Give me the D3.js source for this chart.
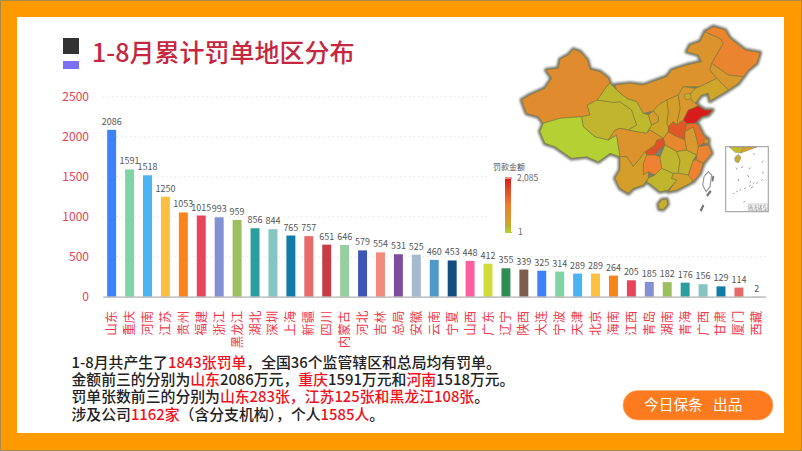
<!DOCTYPE html>
<html><head><meta charset="utf-8">
<script src="https://cdn.jsdelivr.net/npm/d3@7"></script>
<style>html,body{margin:0;padding:0;background:#fff}svg{display:block}text{font-family:"Noto Sans CJK SC","Noto Sans",sans-serif}</style>
</head><body><svg id="c" width="802" height="451"></svg>
<script>
const categories=["山东","重庆","河南","江苏","贵州","福建","浙江","黑龙江","湖北","深圳","上海","新疆","四川","内蒙古","河北","吉林","总局","安徽","云南","宁夏","山西","广东","辽宁","陕西","大连","宁波","天津","北京","海南","江西","青岛","湖南","青海","广西","甘肃","厦门","西藏"];
const fines=[2086,1591,1518,1250,1053,1015,993,959,856,844,765,757,651,646,579,554,531,525,460,453,448,412,355,339,325,314,289,289,264,205,185,182,176,156,129,114,2];
const palette=["#3d82fb","#7fd4a5","#4ab3f4","#fdbf3f","#f8841c","#e8445c","#858fd3","#9dbf5f","#2a9d9f","#85c5bf","#127ca8","#e66a6a","#c73a47","#97cda0","#3f55b5","#f28b7c","#7b4f9d","#a6b9cf","#4f98c9","#144e7e","#fb5fa0","#cfdc3c","#2f8c55","#7d5e4e"];
const yTicks=[0,500,1000,1500,2000,2500];
const titleText="1-8月累计罚单地区分布";
const paragraph=[
 [["1-8月共产生了",0],["1843张罚单",1],["，全国36个监管辖区和总局均有罚单。",0]],
 [["金额前三的分别为",0],["山东",1],["2086万元，",0],["重庆",1],["1591万元和",0],["河南",1],["1518万元。",0]],
 [["罚单张数前三的分别为",0],["山东283张，江苏125张和黑龙江108张",1],["。",0]],
 [["涉及公司",0],["1162家",1],["（含分支机构），个人",0],["1585人",1],["。",0]]
];
const legendTitle="罚款金额";
const legendRange=[1,2085];
const badgeParts=["今日保条","出品"];
// province outlines, in map units
const provinces={
"新疆":[[125,255],[150,240],[195,220],[215,190],[198,165],[235,160],[240,133],[265,120],[280,103],[300,110],[322,135],[330,163],[360,170],[385,190],[390,205],[380,215],[352,255],[322,270],[330,300],[305,305],[240,310],[190,325],[175,305],[140,295],[132,275]],
"西藏":[[190,325],[240,310],[305,305],[310,335],[345,365],[385,375],[410,360],[420,425],[390,415],[355,440],[320,425],[275,430],[225,395],[195,385],[180,350]],
"青海":[[310,335],[305,305],[330,300],[322,270],[352,255],[400,262],[420,260],[455,285],[470,330],[445,345],[420,340],[405,345],[385,375],[345,365]],
"甘肃":[[390,205],[410,225],[440,250],[470,260],[490,295],[505,300],[515,330],[500,355],[470,350],[445,345],[470,330],[455,285],[420,260],[400,262],[352,255],[380,215]],
"内蒙古":[[405,210],[450,205],[490,210],[560,185],[575,165],[620,150],[665,140],[655,120],[620,110],[630,90],[660,80],[675,50],[685,55],[720,70],[730,85],[695,145],[690,165],[710,190],[660,215],[610,215],[595,240],[560,255],[535,270],[520,288],[490,295],[470,260],[440,250],[410,225]],
"黑龙江":[[675,50],[700,35],[735,45],[750,70],[795,105],[840,113],[830,145],[805,165],[790,185],[745,180],[695,145],[730,85],[720,70],[685,55]],
"吉林":[[695,145],[745,180],[790,185],[775,205],[745,225],[730,210],[710,190],[690,165]],
"辽宁":[[645,220],[660,215],[710,190],[730,210],[745,225],[690,258],[685,235],[665,240],[645,265],[625,245]],
"河北":[[610,215],[645,220],[625,245],[645,265],[655,270],[640,280],[625,285],[610,315],[590,330],[600,280],[595,240]],
"北京":[[612,238],[630,235],[634,250],[618,255]],
"山西":[[560,255],[595,240],[600,280],[590,330],[580,320],[565,335],[560,325],[565,290]],
"陕西":[[535,270],[560,255],[565,290],[560,325],[565,335],[565,350],[550,370],[510,345],[500,355],[515,330],[535,320],[535,305],[520,288]],
"宁夏":[[505,300],[520,288],[535,305],[535,320],[515,330]],
"山东":[[610,315],[625,285],[655,273],[675,285],[698,285],[685,300],[665,305],[645,325],[620,327]],
"河南":[[565,335],[580,320],[590,330],[610,315],[620,327],[615,350],[615,375],[580,360],[565,350]],
"湖北":[[550,370],[565,350],[580,360],[615,375],[620,405],[590,410],[555,390]],
"重庆":[[495,410],[525,390],[530,375],[550,370],[555,390],[535,405],[525,420],[500,420]],
"四川":[[405,345],[420,340],[445,345],[470,350],[500,355],[510,345],[550,370],[530,375],[525,390],[495,410],[480,430],[460,455],[440,425],[420,425],[410,360],[385,375]],
"贵州":[[490,445],[500,420],[525,420],[540,425],[545,460],[525,480],[505,470],[490,480]],
"云南":[[420,425],[440,425],[460,455],[480,430],[495,410],[500,420],[490,445],[490,480],[505,470],[505,490],[490,510],[460,520],[445,535],[420,520],[405,490],[420,465]],
"广西":[[505,490],[525,480],[545,460],[580,475],[575,490],[590,495],[565,525],[540,530],[515,510],[500,500]],
"湖南":[[540,425],[555,390],[590,410],[600,435],[595,475],[580,475],[545,460]],
"江西":[[590,410],[620,405],[650,420],[640,435],[625,480],[595,475],[600,435]],
"广东":[[580,475],[595,475],[625,480],[640,495],[630,505],[590,525],[565,530],[590,495],[575,490]],
"福建":[[640,435],[650,435],[670,445],[660,475],[640,500],[625,480]],
"浙江":[[655,395],[685,390],[695,415],[670,445],[650,435],[650,420]],
"安徽":[[615,350],[640,335],[650,370],[655,395],[650,420],[620,405],[615,375]],
"江苏":[[620,327],[645,325],[655,330],[670,360],[685,375],[670,385],[655,395],[650,370],[640,335],[615,350]],
"上海":[[672,372],[685,372],[685,385],[672,385]],
"海南":[[535,568],[545,555],[560,553],[563,568],[550,583],[538,582]]
};
const taiwanOutline=[[685,470],[695,480],[690,515],[678,530],[668,510],[672,485]];
const islands=[[[697,482],[703,484],[700,500],[695,498]],[[690,525],[695,530],[683,545],[678,540]],[[668,568],[673,572],[665,590],[659,586]]];
const insetCapWest=[[748,396],[790,396],[782,414],[765,412]];
const insetCapEast=[[790,396],[830,396],[805,406],[782,414]];
const insetIsland=[[764,428],[775,418],[783,428],[775,443],[766,440]];
const insetMarks=[[[768,458],[772,464]],[[783,458],[789,455]],[[806,462],[812,458]],[[846,443],[850,437]],[[820,415],[825,419]],[[775,492],[776,499]],[[758,537],[763,534]],[[768,531],[773,528]],[[778,526],[783,523]],[[793,521],[798,518]],[[807,515],[812,511]],[[818,507],[823,503]],[[829,506],[834,502]],[[843,497],[848,493]],[[808,502],[813,498]],[[790,562],[795,559]],[[850,470],[848,476]],[[803,480],[806,486]],[[812,520],[820,514]]];
const insetLabel="南海诸岛";

const svg=d3.select("#c");
const defs=svg.append("defs");
const blur=defs.append("filter").attr("id","soft");blur.append("feGaussianBlur").attr("stdDeviation",.45);
const blur2=defs.append("filter").attr("id","soft2");blur2.append("feGaussianBlur").attr("stdDeviation",.9);

// frame
svg.append("rect").attr("width",802).attr("height",451).attr("fill","#ff9900");
svg.append("rect").attr("x",.5).attr("y",.5).attr("width",801).attr("height",450).attr("fill","none").attr("stroke","#a8894a");
svg.append("rect").attr("x",17).attr("y",17).attr("width",767).attr("height",416).attr("fill","#fff");
// heading
svg.append("rect").attr("x",63).attr("y",38).attr("width",16).attr("height",16).attr("fill","#333");
svg.append("rect").attr("x",63).attr("y",61).attr("width",16).attr("height",8).attr("fill","#7b6ff5");
svg.append("text").attr("x",92).attr("y",62).attr("font-size",25).attr("font-weight",500).attr("fill","#c4273f").text(titleText);

// chart
const x=d3.scaleBand().domain(categories).range([102.7,765.8]).paddingInner(.5).paddingOuter(.25);
const y=d3.scaleLinear().domain([0,2500]).range([296.7,96.7]);
const yAxis=svg.append("g").attr("transform","translate(103,0)").call(d3.axisLeft(y).tickValues(yTicks).tickSize(0).tickPadding(14).tickFormat(d3.format("d")));
yAxis.select(".domain").remove();
yAxis.selectAll("text").attr("font-size",12).attr("fill","#e8404f").style("font-family",'"Noto Sans CJK SC"');
svg.append("g").selectAll("line").data(yTicks.slice(1)).join("line")
 .attr("x1",103).attr("x2",766).attr("y1",d=>y(d)).attr("y2",d=>y(d))
 .attr("stroke","#e6e6e6").attr("stroke-dasharray","1.5 3");
// the map picture's white ground covers the upper grid lines
svg.append("rect").attr("x",490).attr("y",18).attr("width",290).attr("height",222).attr("fill","#fff");
const rows=categories.map((c,i)=>({c,v:fines[i],color:palette[i%palette.length]}));
svg.append("g").selectAll("rect").data(rows).join("rect")
 .attr("x",d=>x(d.c)).attr("width",x.bandwidth()).attr("y",d=>y(d.v)).attr("height",d=>y(0)-y(d.v)).attr("fill",d=>d.color);
svg.append("g").selectAll("text").data(rows).join("text")
 .attr("x",d=>x(d.c)+x.bandwidth()/2).attr("y",d=>y(d.v)-5).attr("text-anchor","middle")
 .attr("font-size",9).attr("fill","#555").text(d=>d.v);
const xAxis=svg.append("g").attr("transform","translate(0,296.7)").call(d3.axisBottom(x).tickSize(0).tickPadding(0));
xAxis.select(".domain").attr("stroke","#b0b0b0").attr("stroke-width",1.2);
xAxis.selectAll("text").attr("font-size",12.5).attr("fill","#ee3b4a").style("font-family",'"Noto Sans CJK SC"')
 .attr("transform","translate(0,14) rotate(-90)").attr("text-anchor","end").attr("x",0).attr("y",0).attr("dy","0.36em");

// map
const mapColor=d3.scaleLinear().domain([1,130,400,800,1050,1500,2085])
 .range(["#b4d030","#bdb82e","#d3a12c","#e28a2e","#f08030","#e05a28","#d81f1f"]);
const byName=new Map(categories.map((c,i)=>[c,fines[i]]));
const features=Object.entries(provinces).map(([name,pts])=>({type:"Feature",properties:{name,value:byName.get(name)},geometry:{type:"Polygon",coordinates:[[...pts,pts[0]]]}}));
const project=d3.geoIdentity().scale(1/3).translate([480,15]);
const path=d3.geoPath(project);
const poly=pts=>({type:"Polygon",coordinates:[[...pts,pts[0]]]});
const under=svg.append("g").attr("filter","url(#soft2)");
const map=svg.append("g").attr("filter","url(#soft)");
under.selectAll("path").data(features).join("path").attr("d",path)
 .attr("fill","#7a7a6e").attr("stroke","#7a7a6e").attr("stroke-width",4.4).attr("stroke-linejoin","round");
map.selectAll("path.p").data(features).join("path").attr("class","p").attr("d",path)
 .attr("fill",d=>mapColor(d.properties.value)).attr("stroke","#7c7a35").attr("stroke-width",.6).attr("stroke-linejoin","round");
map.append("path").attr("d",path(poly(taiwanOutline))).attr("fill","#fff").attr("stroke","#999").attr("stroke-width",1.2);
map.selectAll("path.i").data(islands).join("path").attr("class","i").attr("d",d=>path(poly(d))).attr("fill","#777");
// inset
const inset=svg.append("g").attr("filter","url(#soft)");
const insetBox=poly([[737,395],[865,395],[865,590],[737,590]]);
inset.append("path").attr("d",path(insetBox)).attr("fill","#fff").attr("stroke","#aaa").attr("stroke-width",1.2);
inset.append("path").attr("d",path(poly(insetCapWest))).attr("fill","#c4bb2c").attr("stroke","#888").attr("stroke-width",.5);
inset.append("path").attr("d",path(poly(insetCapEast))).attr("fill","#d9a02c").attr("stroke","#888").attr("stroke-width",.5);
inset.append("path").attr("d",path(poly(insetIsland))).attr("fill","#c9ad2a").attr("stroke","#888").attr("stroke-width",.6);
inset.selectAll("path.k").data(insetMarks).join("path").attr("class","k").attr("d",d=>path({type:"LineString",coordinates:d})).attr("fill","none").attr("stroke","#888").attr("stroke-width",.8);
inset.append("path").attr("d",path(poly([[805,567],[862,567],[862,587],[805,587]]))).attr("fill","#fff").attr("stroke","#aaa").attr("stroke-width",.6);
inset.append("text").attr("x",project([833,581])[0]).attr("y",project([833,581])[1]).attr("text-anchor","middle").attr("font-size",4.5).attr("fill","#777").text(insetLabel);
// legend
const grad=defs.append("linearGradient").attr("id","lg").attr("x1",0).attr("x2",0).attr("y1",1).attr("y2",0);
const legendScale=d3.scaleLinear().domain(legendRange).range([232,179]);
d3.range(0,1.01,.1).forEach(t=>{const v=legendRange[0]+t*(legendRange[1]-legendRange[0]);grad.append("stop").attr("offset",t).attr("stop-color",mapColor(v));});
svg.append("rect").attr("x",505).attr("width",6).attr("y",legendScale(legendRange[1])).attr("height",legendScale(legendRange[0])-legendScale(legendRange[1])).attr("fill","url(#lg)");
svg.append("text").attr("x",493).attr("y",170).attr("font-size",8).attr("fill","#555").text(legendTitle);
svg.selectAll("line.m").data(legendRange).join("line").attr("class","m").attr("x1",505).attr("x2",512)
 .attr("y1",d=>legendScale(d)+(d===1?.5:-1)).attr("y2",d=>legendScale(d)+(d===1?.5:-1)).attr("stroke",d=>mapColor(d));
svg.selectAll("text.l").data(legendRange).join("text").attr("class","l").attr("x",d=>d===1?518:517).attr("y",d=>legendScale(d)+(d===1?3:2)).attr("font-size",8.5).attr("fill","#666").text(d3.format(","));

// paragraph
const lineY=d3.scaleLinear().domain([0,3]).range([368,419.5]);
const para=svg.append("g");
paragraph.forEach((line,i)=>{
 const t=para.append("text").attr("x",71.5).attr("y",lineY(i)).attr("font-size",14.85).attr("font-weight",500);
 line.forEach(([s,red])=>t.append("tspan").attr("fill",red?"#f01020":"#222").text(s));
});
// badge
svg.append("rect").attr("x",623).attr("y",390.5).attr("width",150).attr("height",29.5).attr("rx",14.7).attr("fill","#fd7a1f").attr("stroke","#ffb070").attr("stroke-width",.6);
svg.selectAll("text.b").data(badgeParts).join("text").attr("class","b").attr("x",(d,i)=>i?713:644).attr("y",410).attr("font-size",14.7).attr("fill","#fff").text(d=>d);
</script></body></html>
